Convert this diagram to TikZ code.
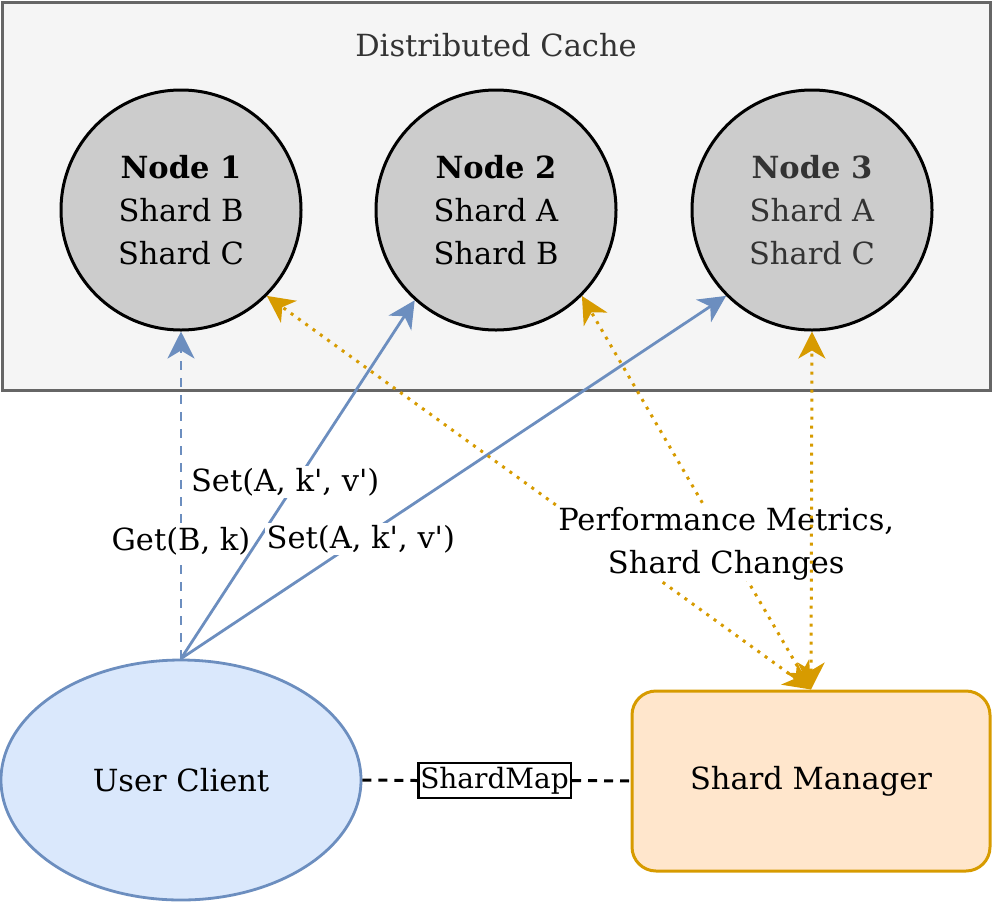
\documentclass[tikz,border=0pt]{standalone}
\usepackage{fontspec}
\setmainfont{DejaVu Serif}
\usetikzlibrary{arrows.meta,shapes.geometric}
\definecolor{contfill}{HTML}{F5F5F5}
\definecolor{contline}{HTML}{666666}
\definecolor{txtgray}{HTML}{333333}
\definecolor{nodefill}{HTML}{CCCCCC}
\definecolor{bluefill}{HTML}{DAE8FC}
\definecolor{blueline}{HTML}{6C8EBF}
\definecolor{orfill}{HTML}{FFE6CC}
\definecolor{orline}{HTML}{D79B00}
\tikzset{
  txt/.style={font=\fontsize{30.5}{43}\selectfont, align=center},
  cachenode/.style={txt, circle, draw=black, line width=3pt, fill=nodefill, minimum size=240pt, inner sep=0pt},
  bluearrow/.style={draw=blueline, line width=2.8pt, -{Stealth[length=27pt,width=27pt,inset=8pt]}},
  orarrow/.style={draw=orline, line width=3pt, dash pattern=on 3pt off 6pt,
     {Stealth[length=27pt,width=27pt,inset=8pt]}-{Stealth[length=27pt,width=27pt,inset=8pt]}},
  lbl/.style={txt, fill=white, inner sep=2pt},
}
\begin{document}
\begin{tikzpicture}[x=1pt,y=-1pt]
\useasboundingbox (0,0) rectangle (993,903);
% container
\node[draw=contline, fill=contfill, line width=3pt, minimum width=988pt, minimum height=388pt, inner sep=0pt] (cont) at (496.5,196) {};
\node[txt, text=txtgray] (title) at (496,45) {Distributed Cache};
% cache nodes
\node[cachenode] (n1) at (181,210) {\textbf{Node 1}\\Shard B\\Shard C};
\node[cachenode] (n2) at (496,210) {\textbf{Node 2}\\Shard A\\Shard B};
\node[cachenode, text=txtgray] (n3) at (812,210) {\textbf{Node 3}\\Shard A\\Shard C};
% client and manager
\node[txt, ellipse, draw=blueline, fill=bluefill, line width=2.8pt, minimum width=360pt, minimum height=240pt, inner sep=0pt] (uc) at (181,780) {User Client};
\node[txt, rectangle, rounded corners=24pt, draw=orline, fill=orfill, line width=3pt, minimum width=358pt, minimum height=180pt] (sm) at (811,781) {Shard Manager};
% ShardMap link
\node[txt, font=\fontsize{28}{40}\selectfont, draw=black, fill=white, line width=2.5pt, inner xsep=2pt, inner ysep=4pt] (smap) at (494.5,780.5) {ShardMap};
\draw[black, line width=3pt, dash pattern=on 9pt off 7pt] (uc.east) -- (smap.west);
\draw[black, line width=3pt, dash pattern=on 9pt off 7pt] (smap.east) -- (sm.west);
% client requests
\draw[bluearrow, dash pattern=on 9pt off 8pt] (uc.north) -- (n1.south)
   node[lbl, pos=0.36] (lget) {Get(B, k)};
\draw[bluearrow] (uc.north) -- (n2.228)
   node[lbl, pos=0.493, xshift=-11pt] (lset1) {Set(A, k\textquotesingle, v\textquotesingle)};
\draw[bluearrow] (uc.north) -- (n3.225)
   node[lbl, pos=0.33] (lset2) {Set(A, k\textquotesingle, v\textquotesingle)};
% manager links
\draw[orarrow] (sm.north) -- (n1.-45);
\draw[orarrow] (sm.north) -- (n2.-45);
\path (sm.north) -- (n2.-45) node[lbl, pos=0.37, inner sep=1pt] (lperf) {Performance Metrics,\\Shard Changes};
\draw[orarrow] (sm.north) -- (n3.south);
\end{tikzpicture}
\end{document}
